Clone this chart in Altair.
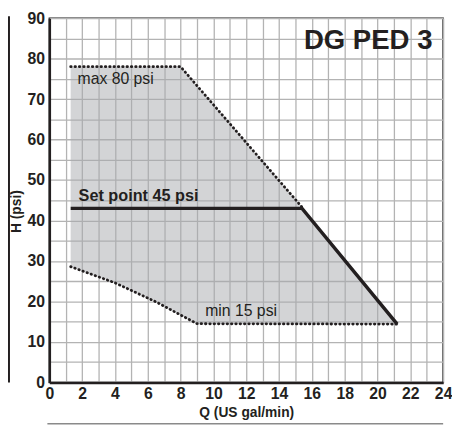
import altair as alt
import pandas as pd

# Shaded operating region (polygon vertices, in drawing order)
poly_q = [1.3, 8.0, 15.4, 21.2, 9.0, 6.5, 4.0, 1.3]
poly_h = [78.0, 78.0, 43.3, 14.4, 14.4, 19.9, 24.6, 28.6]

# max 80 psi dotted boundary
max_q = [1.3, 8.0, 15.4]
max_h = [78.0, 78.0, 43.3]

# min 15 psi dotted boundary
min_q = [1.3, 4.0, 6.5, 9.0, 21.2]
min_h = [28.6, 24.6, 19.9, 14.5, 14.4]

# Set point 45 psi curve
set_q = [1.3, 15.4, 21.2]
set_h = [43.0, 43.0, 14.4]

# Annotations
label_text = ["max 80 psi", "Set point 45 psi", "min 15 psi"]
label_q = [1.72, 1.78, 9.5]
label_h = [73.8, 44.8, 16.5]
label_weight = ["normal", "bold", "normal"]

title_text = "DG PED 3"
title_q = 23.35
title_h = 82.3

x_ticks = list(range(0, 25))
y_ticks = list(range(0, 95, 5))

FONT = "Liberation Sans"
INK = "#231f20"

W, H = 400, 370

poly_df = pd.DataFrame({"q": poly_q, "h": poly_h, "i": list(range(len(poly_q)))})
max_df = pd.DataFrame({"q": max_q, "h": max_h, "i": list(range(len(max_q)))})
min_df = pd.DataFrame({"q": min_q, "h": min_h, "i": list(range(len(min_q)))})
set_df = pd.DataFrame({"q": set_q, "h": set_h, "i": list(range(len(set_q)))})
lab_df = pd.DataFrame({"q": label_q, "h": label_h, "t": label_text, "w": label_weight})
ttl_df = pd.DataFrame({"q": [title_q], "h": [title_h], "t": [title_text]})

xscale = alt.Scale(domain=[0, 24], nice=False, zero=False)
yscale = alt.Scale(domain=[0, 90], nice=False, zero=False)

xenc = alt.X(
    "q:Q",
    scale=xscale,
    axis=alt.Axis(
        values=x_ticks,
        tickCount=len(x_ticks),
        labelExpr="datum.value % 2 == 0 ? datum.label : ''",
        title="Q (US gal/min)",
        titleY=35,
        titleBaseline="alphabetic",
        labelPadding=3,
        labelFlush=False,
        labelOverlap=False,
    ),
)
yenc = alt.Y(
    "h:Q",
    scale=yscale,
    axis=alt.Axis(
        values=y_ticks,
        tickCount=len(y_ticks),
        labelExpr="datum.value % 10 == 0 ? datum.label : ''",
        title="H (psi)",
        titleX=-33,
        titleY=196,
        titleAlign="center",
        titleBaseline="middle",
        labelPadding=5,
        labelFlush=False,
        labelOverlap=False,
    ),
)

poly = alt.Chart(poly_df).mark_line(
    fill="#a8aaae", fillOpacity=0.5, strokeOpacity=0, strokeWidth=0
).encode(x=xenc, y=yenc, order=alt.Order("i:Q"))

dotted = dict(color=INK, strokeWidth=2.8, strokeDash=[0.5, 3.9], strokeCap="round")

max_line = alt.Chart(max_df).mark_line(**dotted).encode(
    x="q:Q", y="h:Q", order=alt.Order("i:Q")
)
min_line = alt.Chart(min_df).mark_line(**dotted).encode(
    x="q:Q", y="h:Q", order=alt.Order("i:Q")
)
set_line = alt.Chart(set_df).mark_line(color=INK, strokeWidth=3.5, strokeJoin="miter").encode(
    x="q:Q", y="h:Q", order=alt.Order("i:Q")
)

labels_reg = alt.Chart(lab_df[lab_df.w == "normal"]).mark_text(
    font=FONT, fontSize=16, align="left", baseline="alphabetic", color=INK
).encode(x="q:Q", y="h:Q", text="t:N")
labels_bold = alt.Chart(lab_df[lab_df.w == "bold"]).mark_text(
    font=FONT, fontSize=16.5, fontWeight="bold", align="left", baseline="alphabetic", color=INK
).encode(x="q:Q", y="h:Q", text="t:N")
title_mark = alt.Chart(ttl_df).mark_text(
    font=FONT, fontSize=28, fontWeight="bold", align="right", baseline="alphabetic", color=INK
).encode(x="q:Q", y="h:Q", text="t:N")

# decorative framing lines outside the plot
left_rule = alt.Chart(ttl_df).mark_rule(color=INK, strokeWidth=2).encode(
    x=alt.value(-41), y=alt.value(-2), y2=alt.value(H)
)
bottom_rule = alt.Chart(ttl_df).mark_rule(color="#8a8a8a", strokeWidth=1.5).encode(
    x=alt.value(-2), x2=alt.value(W), y=alt.value(H + 42)
)

chart = (
    alt.layer(poly, max_line, min_line, set_line, labels_reg, labels_bold, title_mark,
              left_rule, bottom_rule)
    .properties(
        width=W,
        height=H,
        autosize=alt.AutoSizeParams(type="none"),
        padding={"left": 42, "top": 7, "right": 9, "bottom": 44},
    )
    .configure_view(stroke="#1a1a1a", strokeWidth=1.5)
    .configure_axis(
        domainColor=INK,
        domainWidth=2.5,
        ticks=False,
        grid=True,
        gridColor="#b3b3b3",
        gridWidth=1.3,
        labelFont=FONT,
        labelFontSize=16,
        labelFontWeight="bold",
        labelColor=INK,
        titleFont=FONT,
        titleFontSize=14,
        titleFontWeight="bold",
        titleColor=INK,
    )
)

chart.save("out.html", embed_options={"renderer": "svg", "actions": False})
